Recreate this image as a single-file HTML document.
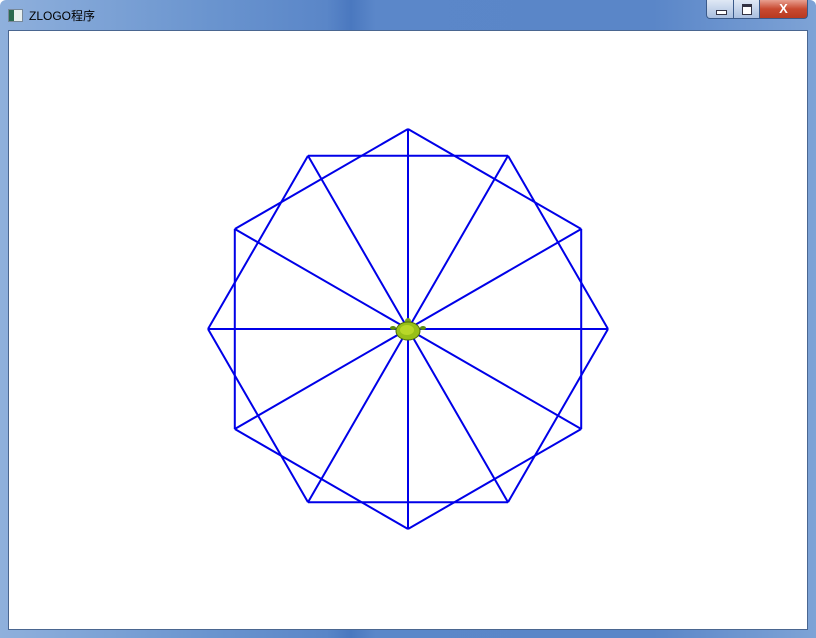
<!DOCTYPE html>
<html><head><meta charset="utf-8"><style>
html,body{margin:0;padding:0;width:816px;height:638px;overflow:hidden;background:#fff}
#win{position:absolute;left:0;top:0;width:816px;height:638px;background:linear-gradient(90deg,#8fb0dc 0%,#6b95cf 25%,#5a86c8 40%,#4a78bf 43%,#5b87c9 46%,#5a86c8 80%,#7ea3d6 100%);border-radius:6px 6px 0 0}
#title{position:absolute;left:29px;top:7px;font:12px "Liberation Sans","Noto Sans CJK SC",sans-serif;color:#000}
#icon{position:absolute;left:8px;top:9px;width:13px;height:11px;background:linear-gradient(90deg,#2a6a50 40%,#e8f0f0 40%);border:1px solid #789}
#client{position:absolute;left:8px;top:30px;width:800px;height:600px;background:#fff;border:1px solid #4a6690;box-sizing:border-box}
.btn{position:absolute;top:0;height:19px;border:1px solid #3a5a8a;box-sizing:border-box;border-top:none}
</style></head><body>
<div id="win">
<div id="icon"></div>
<div id="title">ZLOGO程序</div>
<div class="btn" style="left:706px;width:28px;background:linear-gradient(#dfe8f5,#a9bfdf);border-radius:0 0 0 4px"><div style="position:absolute;left:9px;top:10px;width:9px;height:3px;background:#fff;border:1px solid #334"></div></div>
<div class="btn" style="left:733px;width:27px;background:linear-gradient(#dfe8f5,#a9bfdf)"><div style="position:absolute;left:8px;top:4px;width:8px;height:7px;border:1px solid #334;border-top-width:3px;background:#fff"></div></div>
<div class="btn" style="left:759px;width:49px;background:linear-gradient(#e8a090,#c84a30 50%,#b83a20);border-radius:0 0 4px 0;color:#fff;font:bold 13px 'Liberation Sans',sans-serif;text-align:center;line-height:18px">X</div>
<div id="client">
<svg id="svg" width="800" height="600" style="position:absolute;left:-9px;top:-31px;overflow:visible"></svg>
</div>
</div>
<script>
const angles=[90,60,30,0,330,300,270,240,210,180,150,120];
const hexA=[90,150,210,270,330,30];
const hexB=[120,60,0,300,240,180];
const radius=200;
const cx=408,cy=329;
const svg=document.getElementById('svg');
const NS='http://www.w3.org/2000/svg';
function px(a){return cx+radius*Math.cos(a*Math.PI/180);}
function py(a){return cy-radius*Math.sin(a*Math.PI/180);}
function line(x1,y1,x2,y2,name){
 const l=document.createElementNS(NS,'line');
 l.setAttribute('x1',x1);l.setAttribute('y1',y1);l.setAttribute('x2',x2);l.setAttribute('y2',y2);
 l.setAttribute('stroke','#0000e8');l.setAttribute('stroke-width','2');
 
 
 svg.appendChild(l);
}
angles.forEach(a=>line(cx,cy,px(a),py(a),'spoke-'+a));
[hexA,hexB].forEach((h,hi)=>{for(let i=0;i<h.length;i++){const a=h[i],b=h[(i+1)%h.length];line(px(a),py(a),px(b),py(b),'hexagon-'+hi+'-edge-'+i);}});
const t=document.createElementNS(NS,'g');


t.innerHTML='<ellipse cx="393" cy="328" rx="3" ry="2" fill="#5a8a10"/><ellipse cx="423" cy="328" rx="3" ry="2" fill="#5a8a10"/><ellipse cx="408" cy="321" rx="3" ry="3" fill="#7aa020"/><ellipse cx="408" cy="331" rx="12" ry="9" fill="#98c018" stroke="#4a6a10" stroke-width="1"/><ellipse cx="407" cy="330" rx="7" ry="5" fill="#b8d828"/>';
svg.appendChild(t);
</script>
</body></html>
